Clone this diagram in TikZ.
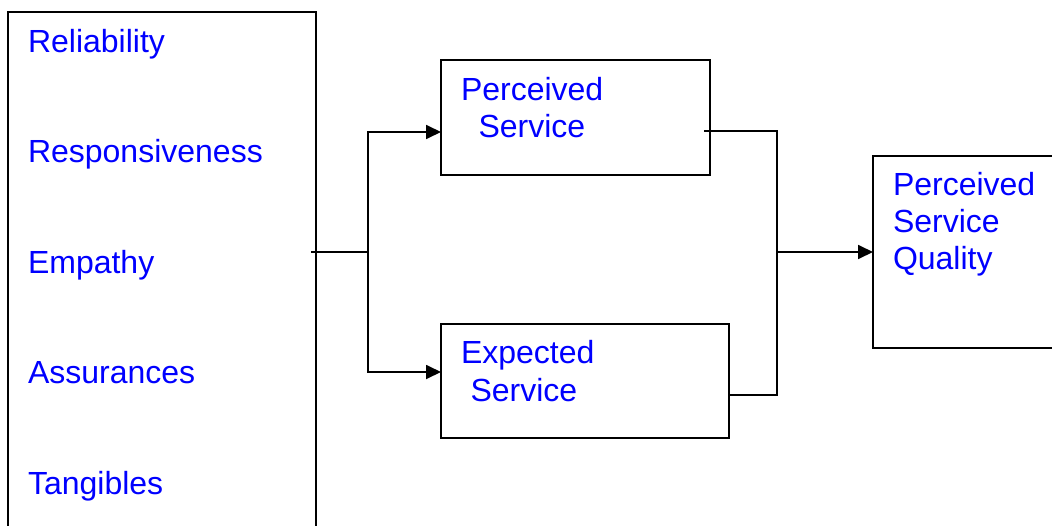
\documentclass[tikz,border=0pt]{standalone}
\usepackage{fontspec}
\setmainfont{Liberation Sans}
\usetikzlibrary{arrows.meta}
\definecolor{txtblue}{RGB}{0,0,255}
\begin{document}
\begin{tikzpicture}[x=1pt,y=-1pt,
  box/.style={draw,line width=1.8pt,inner sep=0pt,outer sep=0pt},
  lbl/.style={anchor=base west,inner sep=0pt,outer sep=0pt,text=txtblue,font=\fontsize{32}{37}\selectfont},
  conn/.style={line width=1.8pt},
  arr/.style={conn,-{Triangle[length=15pt,width=14pt]}}]
\useasboundingbox (0,0) rectangle (1052,525);
\clip (0,0) rectangle (1052,525);
\fill[white] (0,0) rectangle (1052,525);
% boxes
\node[box,minimum width=308pt,minimum height=528pt] (lb) at (162,276) {};
\node[box,minimum width=269pt,minimum height=115pt] (ps) at (575.5,117.5) {};
\node[box,minimum width=288pt,minimum height=114pt] (es) at (585,381) {};
\node[box,minimum width=189pt,minimum height=192pt] (psq) at (967.5,252) {};
% left box texts
\node[lbl] (t1) at (28,52) {Reliability};
\node[lbl] (t2) at (28,162.5) {Responsiveness};
\node[lbl] (t3) at (28,273) {Empathy};
\node[lbl] (t4) at (28,383.5) {Assurances};
\node[lbl] (t5) at (28,494) {Tangibles};
% perceived service
\node[lbl] (p1) at (461,100) {Perceived};
\node[lbl] (p2) at (478.5,137) {Service};
% expected service
\node[lbl] (e1) at (461,363) {Expected};
\node[lbl] (e2) at (470.5,401) {Service};
% perceived service quality
\node[lbl] (q1) at (893,195) {Perceived};
\node[lbl] (q2) at (893,232) {Service};
\node[lbl] (q3) at (893,269) {Quality};
% connectors
\coordinate (s1) at (311,252);
\coordinate (j1) at (368,252);
\coordinate (s2) at (704,131);
\coordinate (j2) at (777,252);
\draw[conn] (s1) -- (j1);
\draw[arr] (j1) |- (ps.west |- 0,132);
\draw[arr] (j1) |- (es.west |- 0,372);
\draw[conn] (s2) -| (j2);
\draw[conn] (j2) |- (es.east |- 0,395);
\draw[arr] (j2) -- (psq.west);
\end{tikzpicture}
\end{document}
